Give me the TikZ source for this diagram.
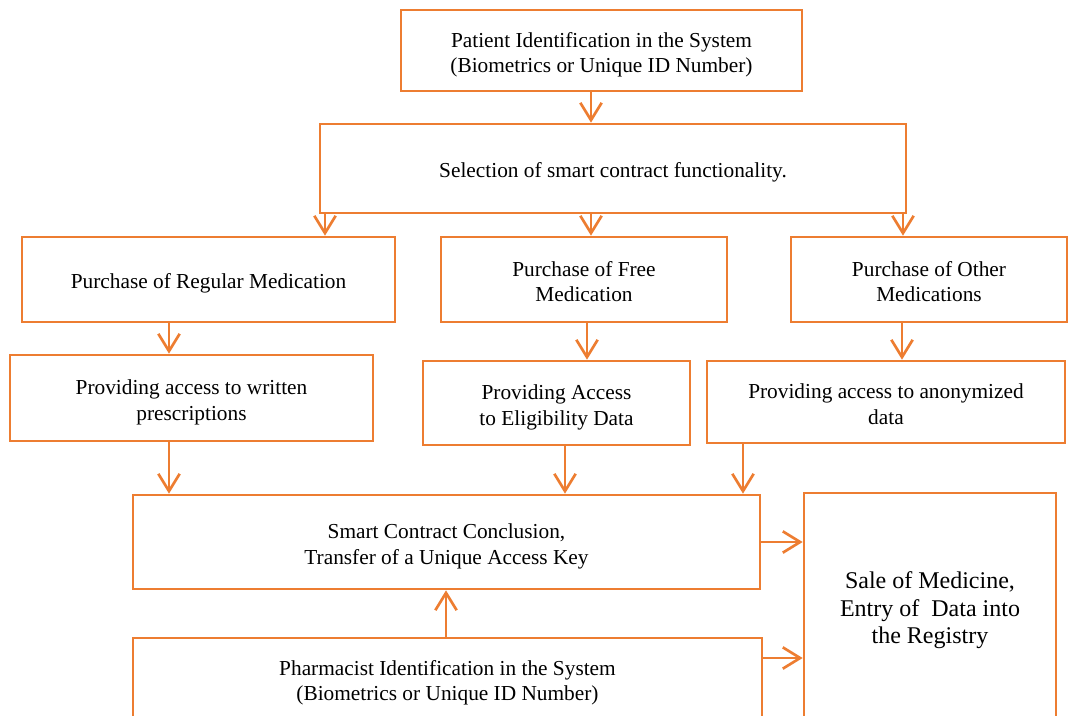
\documentclass[tikz,border=0pt]{standalone}
\usepackage{fontspec}
\setmainfont{Liberation Serif}
\usetikzlibrary{arrows.meta}
\definecolor{orng}{HTML}{ED7D31}
\begin{document}
\begin{tikzpicture}[x=0.75pt,y=-0.75pt,
  box/.style={draw=orng, line width=2pt, inner sep=0pt, align=center,
    font=\fontsize{16}{19}\selectfont},
  one/.style={text height=13.5pt, text depth=0pt},
  two/.style={text height=33pt, text depth=0pt},
  arr/.style={draw=orng, line width=2pt, -{Straight Barb[length=13pt,width=16pt,line width=2pt]}}]
\useasboundingbox (0,0) rectangle (1068,715);
\clip (0,0) rectangle (1068,715);
\node[box, two, minimum width=300.75pt, minimum height=60.75pt] (patient) at (601.5,50.5)
  {Patient Identification in the System\\(Biometrics or Unique ID Number)};
\node[box, one, minimum width=439.5pt, minimum height=66.75pt] (sel) at (613,168.5)
  {Selection of smart contract functionality.};
\node[box, one, minimum width=279.75pt, minimum height=63.75pt] (reg) at (208.5,279.5)
  {Purchase of Regular Medication};
\node[box, two, minimum width=214.5pt, minimum height=63.75pt] (free) at (584,279.5)
  {Purchase of Free\\Medication};
\node[box, two, minimum width=207pt, minimum height=63.75pt] (other) at (929,279.5)
  {Purchase of Other\\Medications};
\node[box, two, minimum width=272.25pt, minimum height=64.5pt] (written) at (191.5,398)
  {Providing access to written\\prescriptions};
\node[box, two, minimum width=200.25pt, minimum height=63pt] (elig) at (556.5,403)
  {Providing Access\\to Eligibility Data};
\node[box, two, minimum width=268.5pt, minimum height=61.5pt] (anon) at (886,402)
  {Providing access to anonymized\\data};
\node[box, two, minimum width=470.25pt, minimum height=70.5pt] (smart) at (446.5,542)
  {Smart Contract Conclusion,\\Transfer of a Unique Access Key};
\node[box, two, minimum width=471.75pt, minimum height=60.75pt] (pharm) at (447.5,678.5)
  {Pharmacist Identification in the System\\(Biometrics or Unique ID Number)};
\node[box, text height=53.5pt, text depth=0pt, minimum width=189pt, minimum height=172.5pt, font=\fontsize{18}{20.6}\selectfont] (sale) at (930,608)
  {Sale of Medicine,\\Entry of~ Data into\\the Registry};
% x positions of connectors
\coordinate (c591) at (591,0);
\coordinate (c325) at (325,0);
\coordinate (c903) at (903,0);
\coordinate (c169) at (169,0);
\coordinate (c587) at (587,0);
\coordinate (c902) at (902,0);
\coordinate (c565) at (565,0);
\coordinate (c743) at (743,0);
\coordinate (c446) at (446,0);
\coordinate (y658) at (0,658);
\draw[arr] (patient.south -| c591) -- (sel.north -| c591);
\draw[arr] (sel.south -| c325) -- (reg.north -| c325);
\draw[arr] (sel.south -| c591) -- (free.north -| c591);
\draw[arr] (sel.south -| c903) -- (other.north -| c903);
\draw[arr] (reg.south -| c169) -- (written.north -| c169);
\draw[arr] (free.south -| c587) -- (elig.north -| c587);
\draw[arr] (other.south -| c902) -- (anon.north -| c902);
\draw[arr] (written.south -| c169) -- (smart.north -| c169);
\draw[arr] (elig.south -| c565) -- (smart.north -| c565);
\draw[arr] (anon.south -| c743) -- (smart.north -| c743);
\draw[arr] (pharm.north -| c446) -- (smart.south -| c446);
\draw[arr] (smart.east) -- (smart.east -| sale.west);
\draw[arr] (pharm.east |- y658) -- (sale.west |- y658);
\end{tikzpicture}
\end{document}
